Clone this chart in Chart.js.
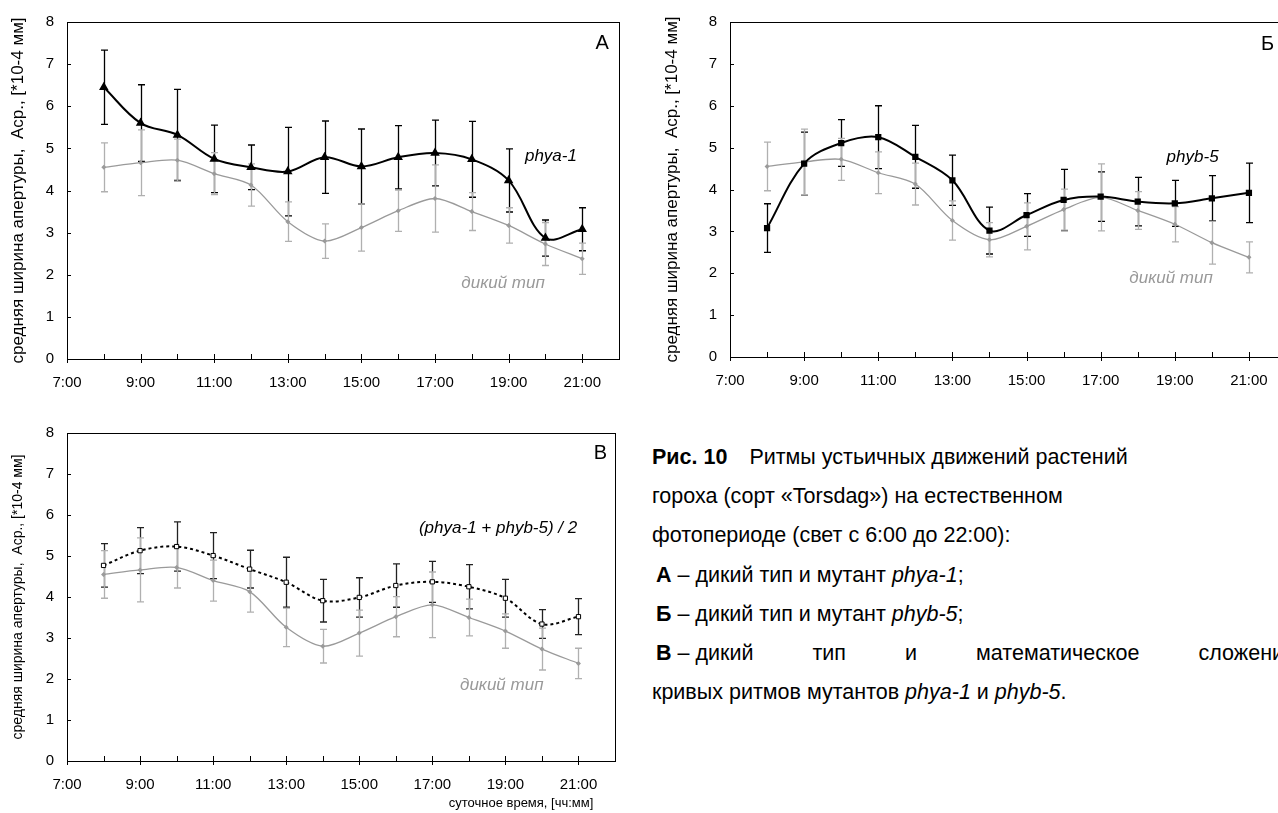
<!DOCTYPE html>
<html>
<head>
<meta charset="utf-8">
<script src="https://cdn.jsdelivr.net/npm/chart.js@4.4.0/dist/chart.umd.min.js"></script>
<style>
    html, body { margin: 0; padding: 0; background: #fff; }
    body { width: 1278px; height: 813px; overflow: hidden; position: relative; font-family: Arial, "Liberation Sans", sans-serif; }
    canvas { position: absolute; }
    #grafA { left: 0; top: 0; }
    #grafB { left: 640px; top: 0; }
    #grafV { left: 0; top: 410px; }
    #caption { position: absolute; left: 652px; top: 438px; font-size: 21.5px; line-height: 39.2px; color: #000; white-space: nowrap; }
    #caption .ind { padding-left: 4px; }
    #caption .hueco { display: inline-block; width: 22px; }
    #caption .bloque { display: inline-block; }
    #caption .just { width: 640px; text-align: justify; text-align-last: justify; }
</style>
</head>
<body>
<canvas id="grafA" width="640" height="400"></canvas>
<canvas id="grafB" width="680" height="400"></canvas>
<canvas id="grafV" width="640" height="403"></canvas>

<div id="caption">
    <div><b class="bloque">Рис. 10</b><span class="hueco"></span>Ритмы устьичных движений растений</div>
    <div>гороха (сорт «Torsdag») на естественном</div>
    <div>фотопериоде (свет с 6:00 до 22:00):</div>
    <div class="ind"><b>А</b> – дикий тип и мутант <i>phya-1</i>;</div>
    <div class="ind"><b>Б</b> – дикий тип и мутант <i>phyb-5</i>;</div>
    <div class="ind just"><span class="bloque"><b>В</b> – дикий</span> тип и математическое сложение</div>
    <div>кривых ритмов мутантов <i>phya-1</i> и <i>phyb-5</i>.</div>
</div>

<script>
// ================== DATOS ==================

// horas de medición
const horas = [8, 9, 10, 11, 12, 13, 14, 15, 16, 17, 18, 19, 20, 21];
const etiquetasX = ['7:00', '9:00', '11:00', '13:00', '15:00', '17:00', '19:00', '21:00'];
const etiquetasY = ['0', '1', '2', '3', '4', '5', '6', '7', '8'];

// дикий тип
const silvMedia = [4.55, 4.66, 4.72, 4.40, 4.13, 3.26, 2.80, 3.12, 3.52, 3.81, 3.50, 3.17, 2.73, 2.38];
const silvError = [0.58, 0.78, 0.50, 0.50, 0.50, 0.47, 0.41, 0.56, 0.49, 0.80, 0.45, 0.42, 0.51, 0.37];

// phya-1
const phyaMedia = [6.45, 5.60, 5.32, 4.75, 4.55, 4.45, 4.79, 4.57, 4.79, 4.89, 4.74, 4.24, 2.87, 3.08];
const phyaError = [0.88, 0.91, 1.08, 0.80, 0.53, 1.05, 0.86, 0.89, 0.75, 0.78, 0.90, 0.75, 0.43, 0.51];

// phyb-5
const phybMedia = [3.08, 4.62, 5.11, 5.25, 4.78, 4.22, 3.02, 3.39, 3.75, 3.83, 3.71, 3.67, 3.79, 3.92];
const phybError = [0.58, 0.75, 0.56, 0.75, 0.75, 0.60, 0.56, 0.51, 0.73, 0.59, 0.58, 0.55, 0.54, 0.71];

// (phya-1 + phyb-5) / 2
const sumaMedia = [4.77, 5.13, 5.23, 5.01, 4.68, 4.36, 3.91, 3.99, 4.28, 4.37, 4.25, 3.97, 3.34, 3.52];
const sumaError = [0.53, 0.56, 0.60, 0.56, 0.46, 0.61, 0.52, 0.48, 0.53, 0.50, 0.54, 0.46, 0.35, 0.44];

const tituloY = 'средняя ширина апертуры,  Аср., [*10-4 мм]';
const fuente = 'Arial, "Liberation Sans", sans-serif';

// ================== PLUGINS ==================

// barras de error con topes
const barrasError = {
    id: 'barrasError',
    beforeDatasetsDraw(chart) {
        const { ctx, scales: { x, y } } = chart;
        ctx.save();
        chart.data.datasets.forEach(function (ds) {
            if (!ds.errores) return;
            ctx.strokeStyle = ds.colorError;
            ctx.lineWidth = 1.3;
            ds.data.forEach(function (p, i) {
                const px = Math.round(x.getPixelForValue(p.x)) + 0.5;
                const yArr = y.getPixelForValue(p.y + ds.errores[i]);
                const yAba = y.getPixelForValue(p.y - ds.errores[i]);
                ctx.beginPath();
                ctx.moveTo(px, yArr); ctx.lineTo(px, yAba);
                ctx.moveTo(px - 3.5, yArr); ctx.lineTo(px + 3.5, yArr);
                ctx.moveTo(px - 3.5, yAba); ctx.lineTo(px + 3.5, yAba);
                ctx.stroke();
            });
        });
        ctx.restore();
    }
};

// marco del área y marcas de los ejes
const marco = {
    id: 'marco',
    afterDraw(chart) {
        const { ctx, chartArea: a, scales: { x, y } } = chart;
        ctx.save();
        ctx.strokeStyle = '#000';
        ctx.lineWidth = 1;
        ctx.strokeRect(Math.round(a.left) + 0.5, Math.round(a.top) + 0.5, Math.round(a.right - a.left), Math.round(a.bottom - a.top));
        ctx.beginPath();
        for (let h = x.min; h <= x.max; h++) {
            const px = Math.round(x.getPixelForValue(h)) + 0.5;
            ctx.moveTo(px, a.bottom - 5);
            ctx.lineTo(px, a.bottom + (h % 2 === 1 ? 4 : 0));
        }
        for (let v = y.min; v <= y.max; v++) {
            const py = Math.round(y.getPixelForValue(v)) + 0.5;
            ctx.moveTo(a.left, py);
            ctx.lineTo(a.left + 4, py);
        }
        ctx.stroke();
        ctx.restore();
    }
};

// textos dentro del gráfico (posición en unidades de datos)
const notas = {
    id: 'notas',
    afterDraw(chart, args, opts) {
        const { ctx, scales: { x, y } } = chart;
        ctx.save();
        ctx.textAlign = 'center';
        ctx.textBaseline = 'middle';
        (opts.lista || []).forEach(function (n) {
            ctx.font = n.font;
            ctx.fillStyle = n.color;
            ctx.fillText(n.texto, x.getPixelForValue(n.x), y.getPixelForValue(n.y));
        });
        ctx.restore();
    }
};

// ================== CONFIGURACIÓN ==================

function puntos(valores) {
    return horas.map(function (h, i) { return { x: h, y: valores[i] }; });
}

function serieSilvestre() {
    return {
        label: 'дикий тип',
        data: puntos(silvMedia),
        errores: silvError,
        colorError: '#b0b0b0',
        borderColor: '#9a9a9a',
        borderWidth: 1.3,
        tension: 0.3,
        pointStyle: 'rectRot',
        pointRadius: 2.5,
        pointBackgroundColor: '#9a9a9a',
        pointBorderColor: '#9a9a9a',
        pointBorderWidth: 0
    };
}

function crearGrafico(id, series, lista, geo) {
    return new Chart(document.getElementById(id), {
        type: 'line',
        data: { datasets: series },
        options: {
            responsive: false,
            animation: false,
            events: [],
            layout: { padding: { left: 0, top: geo.arriba, right: geo.derecha, bottom: 0 } },
            plugins: {
                legend: { display: false },
                tooltip: { enabled: false },
                notas: { lista: lista }
            },
            scales: {
                x: {
                    type: 'linear',
                    min: 7,
                    max: 22,
                    grid: { display: false, drawTicks: false },
                    border: { display: false },
                    ticks: {
                        stepSize: 1,
                        autoSkip: false,
                        maxRotation: 0,
                        padding: 15,
                        color: '#000',
                        font: { family: fuente, size: 15 },
                        callback: function (v) {
                            const e = etiquetasX.find(function (t) { return parseInt(t) === v; });
                            return e || '';
                        }
                    },
                    title: {
                        display: !!geo.tituloX,
                        text: geo.tituloX || '',
                        align: 'end',
                        color: '#000',
                        font: { family: fuente, size: 13 },
                        padding: { top: 0, bottom: 2 }
                    },
                    afterFit: function (s) { s.height = geo.altoX; }
                },
                y: {
                    min: 0,
                    max: 8,
                    grid: { display: false, drawTicks: false },
                    border: { display: false },
                    ticks: {
                        stepSize: 1,
                        padding: 13,
                        color: '#000',
                        font: { family: fuente, size: 15 },
                        callback: function (v) { return etiquetasY[v]; }
                    },
                    title: {
                        display: true,
                        text: tituloY,
                        color: '#000',
                        font: { family: fuente, size: geo.tamTitulo },
                        padding: { top: geo.margenTitulo, bottom: 0 }
                    },
                    afterFit: function (s) { s.width = geo.anchoY; }
                }
            }
        },
        plugins: [barrasError, marco, notas]
    });
}

const letraNegra = 'italic 17px ' + fuente;
const letraGris = 'italic 17px ' + fuente;
const letraPanel = '20px ' + fuente;

// А: дикий тип и phya-1
crearGrafico('grafA', [{
    label: 'phya-1',
    data: puntos(phyaMedia),
    errores: phyaError,
    colorError: '#000',
    borderColor: '#000',
    borderWidth: 2,
    tension: 0.35,
    pointStyle: 'triangle',
    pointRadius: 3.5,
    pointBackgroundColor: '#000',
    pointBorderColor: '#000'
}, serieSilvestre()], [
    { texto: 'А', x: 21.54, y: 7.49, font: letraPanel, color: '#000' },
    { texto: 'phya-1', x: 20.15, y: 4.82, font: letraNegra, color: '#000' },
    { texto: 'дикий тип', x: 18.85, y: 1.8, font: letraGris, color: '#999' }
], { anchoY: 67, altoX: 41, arriba: 17, derecha: 21, tamTitulo: 17, margenTitulo: 8 });

// Б: дикий тип и phyb-5
crearGrafico('grafB', [{
    label: 'phyb-5',
    data: puntos(phybMedia),
    errores: phybError,
    colorError: '#000',
    borderColor: '#000',
    borderWidth: 2,
    tension: 0.35,
    pointStyle: 'rect',
    pointRadius: 3,
    pointBackgroundColor: '#000',
    pointBorderColor: '#000'
}, serieSilvestre()], [
    { texto: 'Б', x: 21.5, y: 7.47, font: letraPanel, color: '#000' },
    { texto: 'phyb-5', x: 19.48, y: 4.77, font: letraNegra, color: '#000' },
    { texto: 'дикий тип', x: 18.9, y: 1.87, font: letraGris, color: '#999' }
], { anchoY: 90, altoX: 43, arriba: 20, derecha: 34, tamTitulo: 17, margenTitulo: 22 });

// В: дикий тип и (phya-1 + phyb-5) / 2
crearGrafico('grafV', [{
    label: '(phya-1 + phyb-5) / 2',
    data: puntos(sumaMedia),
    errores: sumaError,
    colorError: '#222',
    borderColor: '#000',
    borderWidth: 2,
    borderDash: [3, 3],
    tension: 0.35,
    pointStyle: 'rect',
    pointRadius: 3,
    pointBackgroundColor: '#fff',
    pointBorderColor: '#000',
    pointBorderWidth: 1
}, serieSilvestre()], [
    { texto: 'В', x: 21.6, y: 7.51, font: letraPanel, color: '#000' },
    { texto: '(phya-1 + phyb-5) / 2', x: 18.8, y: 5.68, font: letraNegra, color: '#000' },
    { texto: 'дикий тип', x: 18.9, y: 1.85, font: letraGris, color: '#999' }
], { anchoY: 67, altoX: 52, arriba: 23, derecha: 25, tamTitulo: 14, margenTitulo: 10,
     tituloX: 'суточное время, [чч:мм]\u00A0\u00A0\u00A0\u00A0\u00A0\u00A0' });
</script>
</body>
</html>
